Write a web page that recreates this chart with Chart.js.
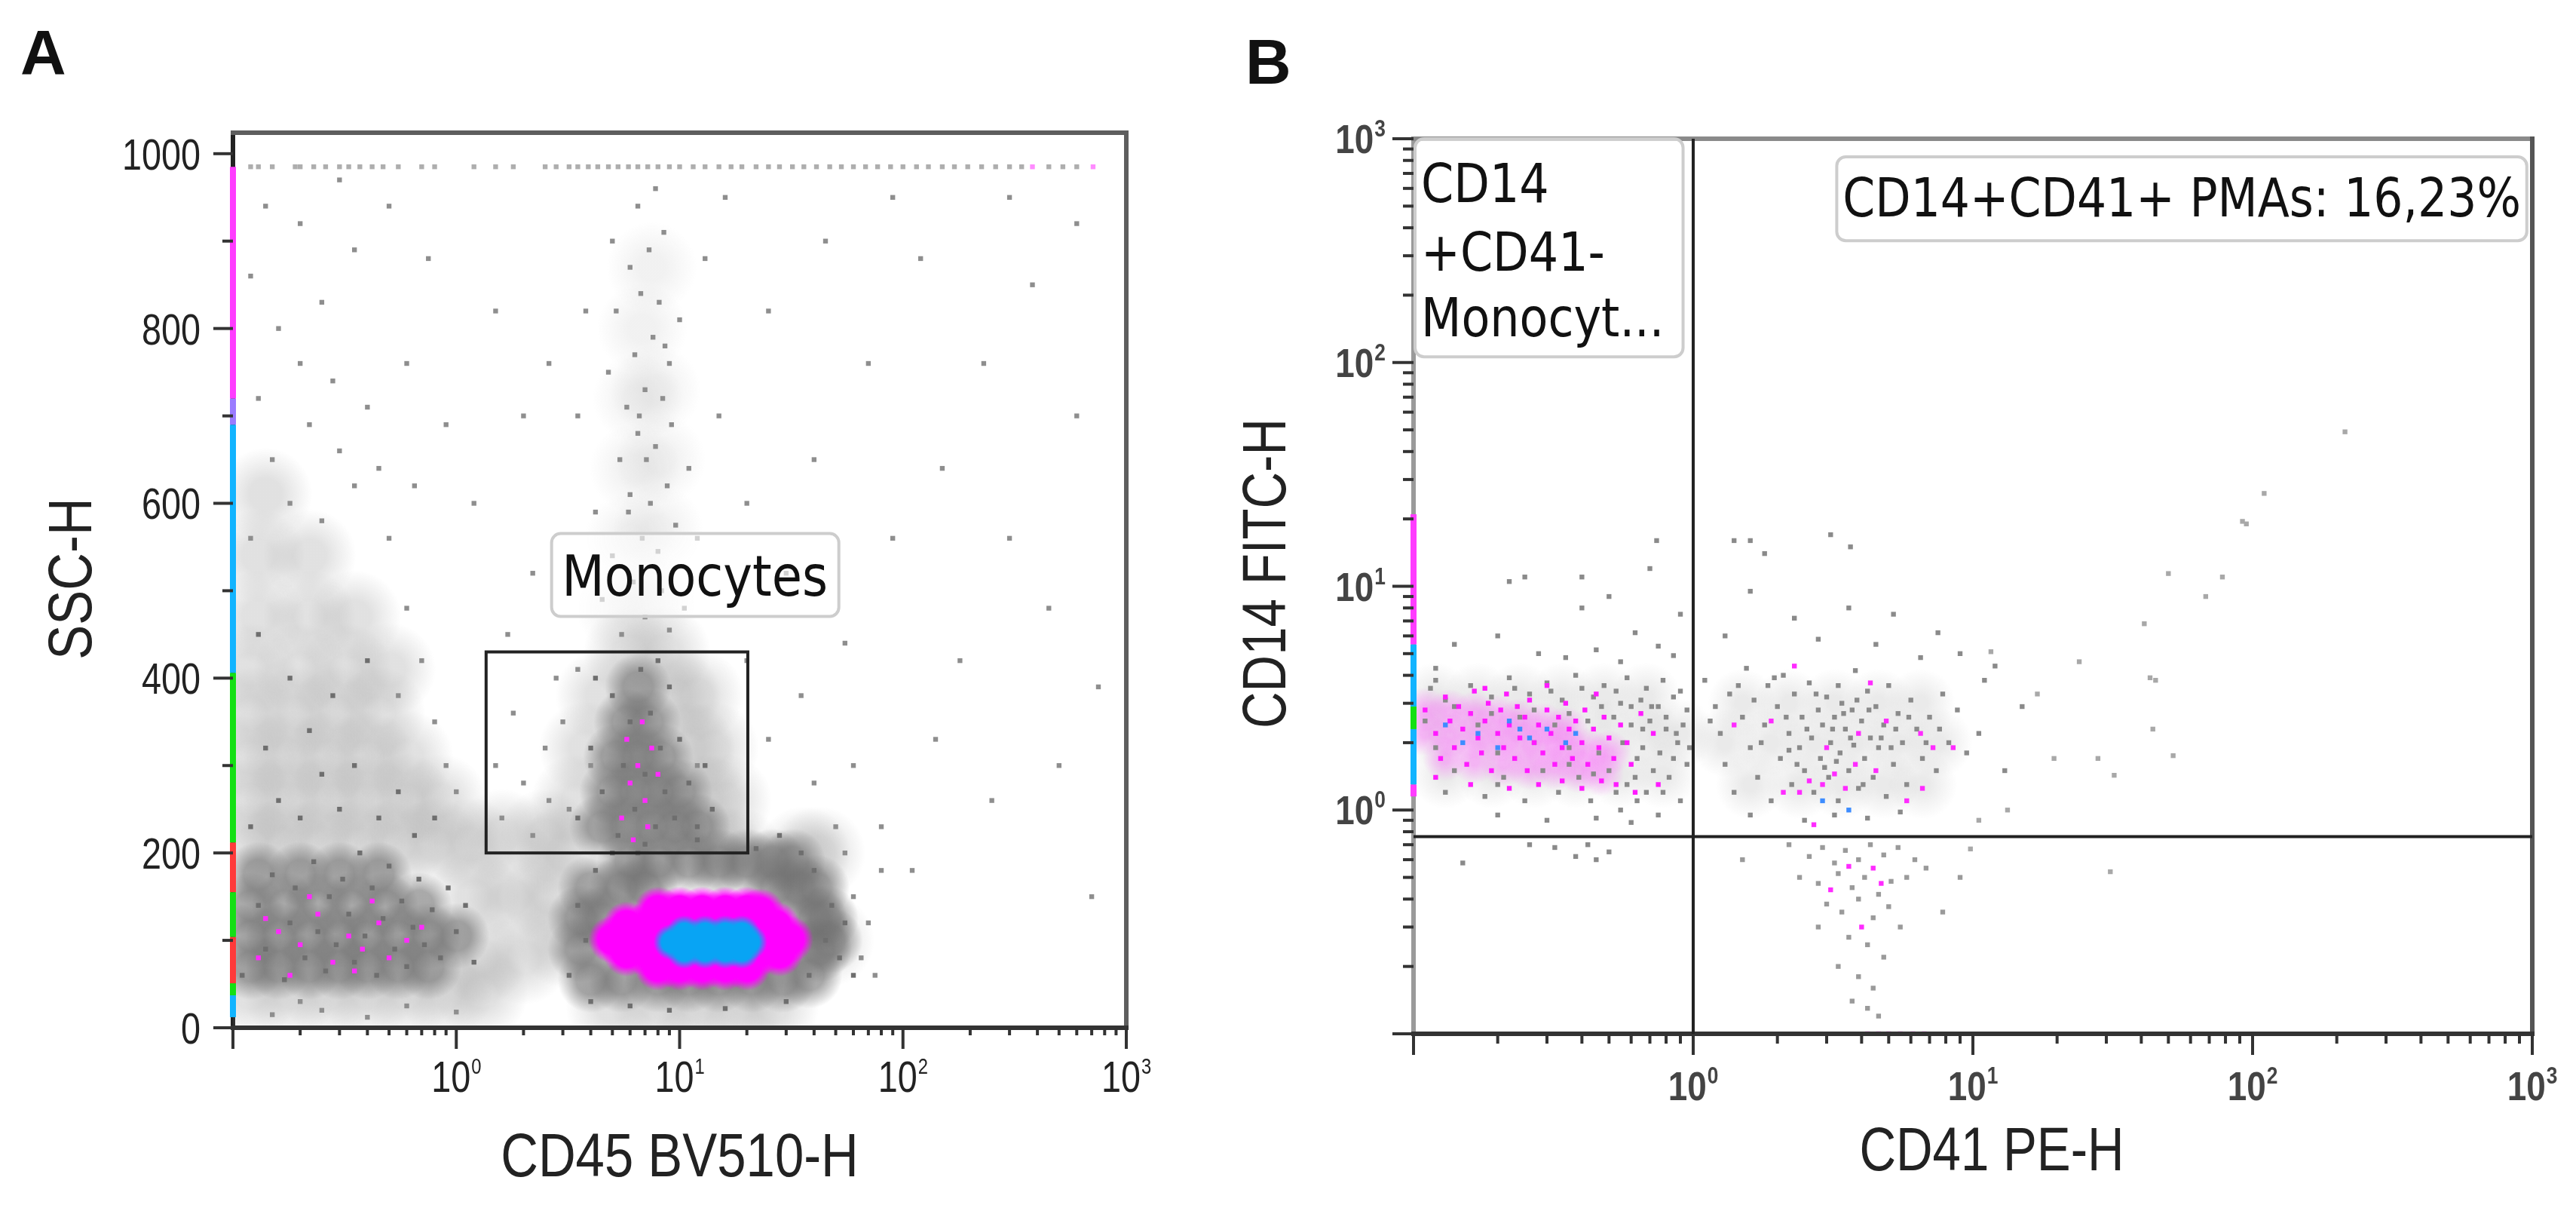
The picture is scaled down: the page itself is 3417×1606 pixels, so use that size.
<!DOCTYPE html>
<html>
<head>
<meta charset="utf-8">
<script src="https://cdn.jsdelivr.net/npm/chart.js@4.4.1/dist/chart.umd.min.js"></script>
<style>
  html, body { margin: 0; padding: 0; background: #fff; }
  body { width: 3417px; height: 1606px; position: relative; overflow: hidden; }
  canvas { position: absolute; top: 0; }
  #chartA { left: 0; }
  #chartB { left: 1620px; }
  .tag { position: absolute; font: bold 84px "Liberation Sans", Arial, sans-serif; line-height: 84px; color: #111; }
</style>
</head>
<body>
<div class="tag" style="left:27px;top:28px">A</div>
<div class="tag" style="left:1652px;top:40px">B</div>
<canvas id="chartA" width="1620" height="1606"></canvas>
<canvas id="chartB" width="1797" height="1606"></canvas>
<script>
// ---------- Panel A data: CD45 BV510-H (log) vs SSC-H (linear) ----------
const AXIS_MIN = 0.1;

// broad, faint density of the populations
const lightHazeA = [
  [0.12,40],[0.18,40],[0.27,40],[0.4,40],[0.6,40],[0.9,40],[1.3,40],
  [0.12,210],[0.17,210],[0.25,210],[0.37,210],[0.55,210],[0.8,210],[1.15,210],
  [0.12,260],[0.18,260],[0.27,260],[0.4,260],[0.6,260],[0.85,260],
  [0.12,310],[0.18,310],[0.27,310],[0.4,310],[0.6,310],
  [0.12,360],[0.19,360],[0.29,360],[0.45,360],
  [0.12,410],[0.2,410],[0.32,410],[0.5,410],
  [0.13,470],[0.22,470],[0.35,470],
  [0.13,540],[0.22,540],[0.14,610],
  [1.3,80],[2.0,80],[1.2,150],[1.8,150],[2.6,150],[1.6,220],[2.5,220],
  [3,200],[15,200],[18,200],[3.5,260],[13,260],[16,260],
  [3.8,320],[11,320],[14,320],[4.5,380],[9.5,380],[12,380],[6,430],[8.5,430],
  [5,25],[8,25],[12,25],[18,25],[26,25],[3,100],[46,100],[36,200],[42,200]
];
// faint column of granulocytes above the monocytes
const plumeA = [
  [5.5,480],[7.5,490],[6,560],[8,570],[6.3,640],[8.2,650],[6.5,720],[7.8,730],[6.8,800],[7.5,870]
];
// dense cores of the populations
const darkHazeA = [
  [0.12,70],[0.16,70],[0.22,70],[0.3,70],[0.4,70],[0.55,70],[0.75,70],
  [0.12,105],[0.16,105],[0.22,105],[0.3,105],[0.4,105],[0.55,105],[0.75,105],[1.0,105],
  [0.12,140],[0.17,140],[0.24,140],[0.34,140],[0.48,140],[0.68,140],
  [0.13,175],[0.2,175],[0.3,175],[0.45,175],
  [4.5,230],[5.8,230],[7.5,230],[9.5,230],[12,230],
  [5,270],[6.3,270],[8,270],[10,270],[5.2,310],[6.5,310],[8.2,310],
  [5.8,350],[7.2,350],[6.5,390],
  [4,55],[5.5,55],[8,55],[11,55],[15,55],[21,55],[29,55],[38,60],
  [3.6,90],[42,90],[47,100],[3.6,125],[4.5,125],[40,125],[45,125],
  [4,160],[5.5,160],[7,160],[27,160],[34,160],[41,160],
  [6,190],[8,190],[11,190],[15,190],[20,190],[26,190],[32,190]
];
// single events, sparse areas
const dotsA = [
  [5.5,450],[7,470],[9,455],[4.5,490],[6.2,510],[8.3,500],[10.5,480],[5,540],[6.8,560],[8,545],
  [9.6,575],[4.2,590],[6,610],[7.4,600],[8.8,620],[5.4,650],[6.5,680],[7.8,665],[9.2,690],[5.8,710],
  [7,730],[8.4,720],[4.8,750],[6.3,770],[7.6,790],[9,760],[5.2,820],[6.7,840],[8.1,830],[10,810],
  [6,870],[7.3,890],[5,900],[8.5,910],[6.5,940],[7.8,960],[3.5,700],[3.8,820],[11,640],[12,560],
  [2.6,760],[13,880],[6.6,700],[7.1,650],[5.9,590],[8.6,780],
  [0.12,560],[0.18,600],[0.25,580],[0.35,620],[0.15,650],[0.22,690],[0.3,660],[0.45,640],[0.13,720],
  [0.2,760],[0.28,740],[0.4,710],[0.16,800],[0.25,830],[0.12,860],[0.5,560],[0.6,480],[0.7,420],
  [0.55,380],[0.8,350],[0.9,300],[1.0,270],[0.2,920],[0.35,890],
  [0.6,760],[0.75,880],[0.5,940],[0.14,940],[0.3,970],[0.9,690],[0.65,620],
  [1.5,820],[2,700],[1.2,600],[2.2,520],[1.7,450],[15,700],[20,600],[25,820],[30,520],[40,650],
  [55,440],[70,760],[90,560],[120,880],[150,640],[180,420],[230,760],[300,560],[380,850],[450,480],
  [600,700],[750,390],[20,420],[35,380],[60,300],[80,230],[110,180],[140,330],[250,260],[500,300],
  [700,150],[45,900],[16,950],[90,950],[300,950],[600,920],[12,300],[25,330],[40,280],
  [1.6,240],[2,280],[2.5,320],[1.8,360],[2.8,400],[3.2,250],[2.2,220],[3,350],[1.5,300],[2.6,260],
  [3.5,410],[4,300],[60,150],[70,120],[65,80],[75,60],[55,200],[50,230],[80,180],
  [0.15,15],[0.25,20],[0.4,12],[0.6,25],[1,18],[0.2,30]
];
const denseDotsA = [
  [0.11,60],[0.13,140],[0.14,90],[0.15,175],[0.17,55],[0.18,120],[0.19,160],[0.21,80],[0.23,190],
  [0.24,110],[0.26,65],[0.27,150],[0.29,95],[0.31,170],[0.33,130],[0.35,75],[0.37,200],[0.39,105],
  [0.42,160],[0.44,60],[0.47,125],[0.5,185],[0.53,90],[0.57,145],[0.6,70],[0.64,115],[0.68,170],
  [0.72,95],[0.78,135],[0.85,80],[0.92,160],[1.0,110],[1.1,140],[1.2,75],[0.12,230],[0.16,260],
  [0.2,240],[0.25,290],[0.3,250],[0.14,320],[0.22,340],[0.35,300],[0.45,240],[0.55,270],[0.18,400],
  [0.28,380],[0.13,450],[0.4,420],[0.65,220],[0.8,240],
  [3.5,240],[4,320],[4.5,270],[5,380],[5.3,220],[5.6,300],[6,350],[6.3,250],[6.7,410],[7,290],
  [7.4,360],[7.8,230],[8.2,320],[8.6,270],[9,390],[9.5,240],[10,330],[11,280],[12,230],[13,300],
  [14,250],[6.5,200],[4.2,400],[8,420],
  [3.2,60],[3.5,140],[4,30],[4.2,180],[5,200],[6,25],[7,210],[9,20],[12,215],[16,22],[22,205],
  [30,30],[38,60],[45,100],[48,140],[40,180],[52,80],[35,200],[28,220],[3.8,100],[55,120],[60,60]
];
const pinkDotsA = [
  [0.13,80],[0.16,110],[0.2,95],[0.24,130],[0.28,75],[0.33,105],[0.38,90],[0.45,120],[0.5,80],
  [0.6,100],[0.7,115],[0.18,60],[0.22,150],[0.35,65],[0.42,145],[0.14,125],
  [5.5,240],[6,280],[6.5,300],[7,260],[7.5,320],[6.8,350],[8,290],[6.2,215],[7.2,230],[5.8,330]
];
// lymphocyte cloud, high-density (magenta) and highest-density (blue) cells
const pinkBlobA = [
  [8,70],[10,70],[12.6,70],[16,70],[20,70],
  [5.8,86],[7.2,86],[9,86],[11.3,86],[14.2,86],[18,86],[22.5,86],[28,86],
  [5,101],[6.3,101],[8,101],[10,101],[12.6,101],[16,101],[20,101],[25,101],[31,101],
  [5.8,117],[7.2,117],[9,117],[11.3,117],[14.2,117],[18,117],[22.5,117],[27,117],
  [8,134],[10,134],[12.6,134],[16,134],[20,134],[23,132]
];
const blueCoreA = [
  [10.5,88],[13,88],[16,88],[19,88],
  [9.2,98],[11.5,98],[14,98],[17,98],[20.5,98],
  [10.5,108],[13,108],[16,108],[19,108]
];
// off-scale events on the top channel
const topRowY = 985;
const topRowA = [0.12,0.13,0.15,0.19,0.2,0.23,0.26,0.3,0.33,0.37,0.42,0.47,0.55,0.7,0.8,1.2,1.5,1.8,
  2.5,2.8,3.2,3.5,3.9,4.3,4.8,5.3,5.9,6.5,7.2,8,9,10,11.5,13,15,17,19,22,25,28,32,36,41,47,53,
  60,68,77,88,100,115,130,150,170,195,225,260,300,340,450,520,600];
const topRowPinkA = [380, 710];
// events piled on the lowest CD45 channel, coloured by density
const stripeA_magenta = [[720,985]];
const stripeA_violet = [[690,720]];
const stripeA_blue = [[406,690],[12,37]];
const stripeA_green = [[212,406],[104,155],[37,51]];
const stripeA_red = [[155,212],[51,104]];
const gateA = { x: [1.36, 20.2], y: [200, 430] };
const monoLabelA = { x: 11.7, y: 518 };

// ---------- Panel B data: CD41 PE-H (log) vs CD14 FITC-H (log) ----------
const greyHazeB = [
  [0.12,3.2],[0.17,3.2],[0.24,3.2],[0.34,3.2],[0.48,3.2],[0.68,3.2],
  [0.12,2.2],[0.17,2.2],[0.24,2.2],[0.34,2.2],[0.48,2.2],[0.68,2.2],[0.9,2.2],
  [0.13,1.45],[0.19,1.45],[0.27,1.45],[0.38,1.45],[0.55,1.45],[0.78,1.45],
  [1.5,3],[2.2,3],[3.2,3],[4.6,3],[6.5,3],[1.3,2],[1.9,2],[2.7,2],[3.8,2],[5.4,2],[7.5,2],
  [1.6,1.3],[2.4,1.3],[3.4,1.3],[4.8,1.3],[6.6,1.3]
];
const pinkHazeB = [
  [0.11,2.8],[0.135,2.75],[0.165,2.7],[0.2,2.6],[0.24,2.5],[0.29,2.4],[0.35,2.3],
  [0.11,2.2],[0.135,2.15],[0.165,2.1],[0.2,2.05],[0.24,2.0],[0.29,1.95],[0.35,1.9],[0.42,1.85],[0.5,1.8],
  [0.13,1.7],[0.165,1.65],[0.21,1.6],[0.26,1.55],[0.32,1.55],[0.39,1.5],[0.47,1.45]
];
const monoB = [
  [0.14,5.5],[0.2,6],[0.28,5],[0.35,4.8],[0.45,5.2],[0.55,4.6],[0.62,6.2],[0.75,5.4],[0.85,4.9],
  [0.9,7.5],[0.5,9],[0.25,11],[0.12,4.3],[0.7,12],[0.4,8],[0.74,16],[0.4,11],[0.22,10.5],
  [0.12,3.8],[0.16,3.6],[0.22,3.9],[0.3,3.7],[0.38,4],[0.48,3.6],[0.58,3.9],[0.68,3.5],[0.78,3.8],[0.9,3.4],
  [0.13,3.1],[0.19,3.2],[0.26,3.3],[0.34,3.1],[0.44,3.2],[0.55,3],[0.65,3.1],[0.75,2.9],[0.85,3.2],[0.95,2.8],
  [0.11,2.5],[0.17,2.4],[0.24,2.6],[0.32,2.4],[0.42,2.5],[0.52,2.6],[0.6,2.4],[0.7,2.5],[0.8,2.3],[0.92,2.4],
  [0.12,1.9],[0.2,1.8],[0.27,2],[0.36,1.9],[0.46,1.8],[0.56,2],[0.66,1.9],[0.76,1.8],[0.88,2],
  [0.14,1.5],[0.21,1.4],[0.29,1.5],[0.39,1.4],[0.5,1.5],[0.62,1.4],[0.72,1.5],[0.82,1.4],[0.95,1.6],
  [0.13,1.2],[0.18,1.15],[0.25,1.1],[0.33,1.2],[0.43,1.1],[0.53,1.2],[0.63,1.1],[0.78,1.2],
  [0.2,0.95],[0.3,0.9],[0.45,0.92],[0.6,0.88],[0.75,0.95],[0.55,1.0],
  [0.15,0.58],[0.32,0.68],[0.38,0.62],[0.45,0.6],[0.5,0.65],[0.42,0.7],[0.26,0.7],
  [0.115,3.5],[0.14,2.9],[0.19,2.7],[0.23,3.5],[0.27,2.8],[0.31,3.4],[0.36,2.7],[0.4,3.5],[0.47,2.9],
  [0.53,3.4],[0.6,2.9],[0.66,2.3],[0.71,2.9],[0.8,2.6],[0.87,2.2],[0.97,1.9],[0.63,1.7],[0.68,1.2],
  [0.85,1.7],[0.9,1.1],[0.2,1.3],[0.36,1.6],[0.44,1.45],[0.58,1.3]
];
const pmaB = [
  [1.1,3.8],[1.2,2.9],[1.25,2.2],[1.3,1.6],[1.35,3.3],[1.4,1.2],[1.5,2.6],[1.55,4.3],[1.6,1.9],[1.65,3.1],
  [1.7,1.4],[1.8,2.4],[1.85,3.6],[1.9,1.1],[2.0,2.9],[2.05,1.7],[2.1,4.0],[2.2,2.2],[2.25,1.3],[2.3,3.3],
  [2.4,1.9],[2.45,2.6],[2.5,1.5],[2.6,3.7],[2.65,2.1],[2.7,1.2],[2.8,2.8],[2.85,1.7],[2.9,2.4],[3.0,3.2],
  [3.05,1.4],[3.1,2.0],[3.2,2.6],[3.3,1.1],[3.35,1.8],[3.4,3.0],[3.5,2.3],[3.6,1.5],[3.7,2.8],[3.75,1.95],
  [3.8,4.2],[3.9,1.25],[4.0,2.5],[4.1,1.7],[4.2,3.4],[4.3,2.1],[4.4,1.4],[4.5,2.9],[4.6,1.9],[4.8,2.4],
  [4.9,1.15],[5.0,3.6],[5.2,1.6],[5.4,2.7],[5.6,2.0],[5.8,1.3],[6.0,3.1],[6.3,2.3],[6.6,1.7],[7.0,2.6],
  [7.4,1.5],[7.8,3.3],[8.2,2.0],[8.8,2.8],[9.5,1.8],[3.2,0.95],[2.5,0.9],[4.2,0.92],[5.5,0.98],[1.6,0.95],
  [1.3,6],[1.6,9.5],[1.8,14],[2.3,7.2],[2.8,5.8],[3.6,8],[4.5,5.5],[5.2,7.5],[6.5,4.8],[7.5,6.2],
  [9,5],[11,3.8],[12,4.4],[10.5,2.2],[13,1.5],[15,2.9],[1.4,16],[1.6,16],[3.65,15],[3.1,17],
  [1.15,2.5],[1.45,3.6],[1.75,2.0],[2.15,2.6],[2.35,1.6],[2.55,2.3],[2.75,3.3],[3.15,2.3],[3.25,1.65],
  [3.45,2.7],[3.65,2.1],[3.85,3.1],[4.05,1.3],[4.25,2.8],[4.7,2.1],[5.1,1.9],[5.3,2.3],[5.9,2.6],
  [6.8,2.0],[7.6,2.3],[2.95,1.55],[2.2,1.85],[3.3,3.6],[1.95,3.9]
];
const tailB = [
  [2.2,0.7],[2.6,0.62],[2.9,0.68],[3.2,0.58],[3.5,0.66],[3.9,0.6],[4.3,0.7],[4.8,0.63],[5.4,0.68],[6.2,0.6],
  [2.4,0.5],[2.8,0.47],[3.3,0.52],[3.7,0.45],[4.1,0.5],[4.6,0.42],[5.1,0.48],[5.8,0.5],[6.8,0.55],[3.0,0.38],
  [3.4,0.35],[3.9,0.4],[4.4,0.33],[5.0,0.37],[5.5,0.3],[2.8,0.3],[3.6,0.27],[4.2,0.25],[4.8,0.22],[3.3,0.2],
  [3.9,0.18],[4.4,0.16],[3.7,0.14],[4.2,0.13],[4.6,0.12],[1.5,0.6],[7.8,0.35],[9,0.5]
];
const sparseB = [
  [214,49],[110,26],[95,19],[92,19.5],[50,11.4],[78,11],[68,9],[41,6.8],[43,3.9],[45,3.8],[24,4.6],
  [17,3.3],[44,2.3],[52,1.75],[32,1.43],[28,1.7],[19.5,1.7],[31,0.53],[11.6,5.1],[13.3,1.0],[10.5,0.9],[9.8,0.67]
];
const pinkMonoB = [
  [0.11,2.8],[0.12,2.2],[0.125,1.7],[0.13,3.2],[0.135,2.5],[0.14,1.9],[0.145,2.9],[0.15,2.3],[0.155,1.6],
  [0.16,2.7],[0.165,3.4],[0.17,2.1],[0.175,1.8],[0.18,2.5],[0.185,3],[0.19,1.5],[0.2,2.2],[0.205,2.8],
  [0.21,1.9],[0.215,3.3],[0.22,2.4],[0.23,1.7],[0.235,2.9],[0.24,2.1],[0.25,2.6],[0.255,1.5],[0.26,3.1],
  [0.27,2],[0.28,2.4],[0.29,1.8],[0.3,2.8],[0.31,2.2],[0.32,1.6],[0.33,2.6],[0.34,1.9],[0.35,3],[0.36,2.3],
  [0.37,1.7],[0.38,2.5],[0.4,2],[0.41,2.8],[0.42,1.6],[0.44,2.3],[0.46,1.9],[0.48,2.6],[0.5,2.1],[0.52,1.7],
  [0.55,2.4],[0.58,2],[0.6,1.6],[0.12,1.4],[0.16,1.3],[0.22,1.25],[0.28,1.3],[0.34,1.35],[0.4,1.25],
  [0.47,1.35],[0.53,1.3],[0.65,2.7],[0.72,2.2],[0.3,3.6],[0.18,3.5],[0.45,3.3],[0.62,1.2],[0.75,1.3]
];
const pinkPmaB = [
  [1.4,2.4],[2.3,4.4],[2.6,1.35],[2.9,1.3],[3.2,1.45],[3.5,1.25],[2.1,1.2],[3.8,1.6],[4.5,1.5],[4.3,3.7],
  [4.9,2.5],[6.5,2.2],[7.2,1.9],[3.9,2.2],[2.4,1.2],[3.0,1.9],[1.9,2.5],[5.8,1.1],[2.7,0.86],[6.6,1.25],[8.5,1.9],
  [3.6,0.56],[4.4,0.55],[4.7,0.47],[3.1,0.44],[4.0,0.3],
  [4.2,0.1],[4.6,0.1],[5.0,0.1],[5.5,0.1],[6.1,0.1],[6.7,0.1]
];
const blueB = [
  [0.13,2.4],[0.17,2.2],[0.22,2.5],[0.26,2.1],[0.3,2.3],[0.35,2.0],[0.2,1.9],[0.38,2.2],[0.15,2.0],
  [0.24,2.3],[2.9,1.1],[3.6,1.0]
];
const stripeB_magenta = [[5.5,21],[1.15,1.3]];
const stripeB_blue = [[1.3,2.3],[2.9,5.5]];
const stripeB_green = [[2.3,2.9]];
const quadB = { x: 1, y: 0.76 };

const narrowFont = "'Liberation Sans',Arial,sans-serif";
const boxFont = "'DejaVu Sans',Verdana,sans-serif";

const pts = arr => arr.map(([x, y]) => ({ x, y }));
const rowPts = (xs, y) => xs.map(x => ({ x, y }));
const segPts = segs => segs.flatMap(([a, b]) => [{ x: AXIS_MIN, y: a }, { x: AXIS_MIN, y: b }, { x: AXIS_MIN, y: null }]);

function dots(data, color, r, style) {
  return { data, backgroundColor: color, borderWidth: 0, pointRadius: r, pointHoverRadius: r,
    pointStyle: style || 'circle', clip: 0 };
}
// soft density blob: a radial gradient around each point
function soft(data, rgb, alpha, r, solid) {
  return {
    data, borderWidth: 0, pointRadius: r, pointHoverRadius: r, clip: 0,
    backgroundColor(c) {
      const flat = `rgba(${rgb},${alpha * 0.5})`;
      if (c.type !== 'data' || !c.raw) return flat;
      const ch = c.chart;
      const sx = ch.scales && ch.scales.x, sy = ch.scales && ch.scales.y;
      if (!sx || !sy) return flat;
      const px = sx.getPixelForValue(c.raw.x), py = sy.getPixelForValue(c.raw.y);
      if (!isFinite(px) || !isFinite(py)) return flat;
      const g = ch.ctx.createRadialGradient(px, py, 0, px, py, r);
      g.addColorStop(0, `rgba(${rgb},${alpha})`);
      g.addColorStop(solid, `rgba(${rgb},${alpha})`);
      g.addColorStop(1, `rgba(${rgb},0)`);
      return g;
    }
  };
}
function stripe(segs, color) {
  return { data: segPts(segs), showLine: true, spanGaps: false, borderColor: color, borderWidth: 8,
    pointRadius: 0, clip: 8 };
}

// 2 = major tick, 1 = minor tick, 0 = skip
function tickKind(v, scale) {
  if (scale.type === 'logarithmic') {
    const e = Math.log10(v);
    if (Math.abs(e - Math.round(e)) < 1e-6) return 2;
    const m = v / Math.pow(10, Math.floor(e + 1e-9));
    return Math.abs(m - Math.round(m)) < 1e-6 ? 1 : 0;
  }
  return v % 200 === 0 ? 2 : 1;
}

function seg(ctx, x0, y0, x1, y1, color) {
  ctx.strokeStyle = color;
  ctx.beginPath(); ctx.moveTo(x0, y0); ctx.lineTo(x1, y1); ctx.stroke();
}
function labelBox(ctx, x0, y0, x1, y1) {
  ctx.save();
  ctx.beginPath();
  ctx.roundRect(x0, y0, x1 - x0, y1 - y0, 12);
  ctx.fillStyle = 'rgba(255,255,255,0.6)';
  ctx.fill();
  ctx.lineWidth = 4;
  ctx.strokeStyle = '#cdcdcd';
  ctx.stroke();
  ctx.restore();
}
function squeezedText(ctx, text, x, y, font, size, squeeze, align, color, rotate) {
  ctx.save();
  ctx.font = size + 'px ' + font;
  ctx.fillStyle = color || '#111';
  ctx.textBaseline = 'alphabetic';
  ctx.textAlign = align;
  ctx.translate(x, y);
  if (rotate) ctx.rotate(rotate);
  ctx.scale(squeeze, 1);
  ctx.fillText(text, 0, 0);
  ctx.restore();
}
// "10" with a raised exponent, anchored on its centre or right edge
function powerLabel(ctx, exp, x, baseline, t, align) {
  const w = (t.weight || '') + ' ';
  ctx.save();
  ctx.fillStyle = t.color;
  ctx.textBaseline = 'alphabetic';
  ctx.textAlign = 'left';
  ctx.font = w + t.size + 'px ' + t.font;
  const w1 = ctx.measureText('10').width * t.squeeze;
  ctx.font = w + t.supSize + 'px ' + t.font;
  const w2 = ctx.measureText(String(exp)).width * t.squeeze;
  const total = w1 + t.gap + w2;
  const left = align === 'right' ? x - total : x - total / 2;
  ctx.translate(left, baseline);
  ctx.scale(t.squeeze, 1);
  ctx.font = w + t.size + 'px ' + t.font;
  ctx.fillText('10', 0, 0);
  ctx.font = w + t.supSize + 'px ' + t.font;
  ctx.fillText(String(exp), (w1 + t.gap) / t.squeeze, -t.raise);
  ctx.restore();
}

function framePlugin(opt) {
  return {
    id: 'frame',
    beforeDatasetsDraw(chart) {
      const { ctx, chartArea: a } = chart;
      ctx.save();
      ctx.lineWidth = 6;
      seg(ctx, a.left, a.top - 3, a.left, a.bottom + 3, opt.leftColor);
      ctx.restore();
    },
    afterDatasetsDraw(chart) {
      const { ctx, chartArea: a, scales: { x, y } } = chart;
      ctx.save();
      ctx.lineWidth = 6;
      ctx.lineCap = 'square';
      seg(ctx, a.left, a.top, a.right, a.top, opt.topColor);
      seg(ctx, a.right, a.top, a.right, a.bottom, opt.rightColor);
      seg(ctx, a.left, a.bottom, a.right, a.bottom, opt.bottomColor);
      ctx.lineCap = 'butt';
      ctx.lineWidth = 4;
      const t = opt.tickText;
      x.ticks.forEach(tk => {
        const k = tickKind(tk.value, x);
        if (!k) return;
        const p = x.getPixelForValue(tk.value);
        seg(ctx, p, a.bottom, p, a.bottom + (k === 2 ? opt.xMajor : opt.xMinor), '#333');
        const e = Math.round(Math.log10(tk.value));
        if (k === 2 && e >= 0) powerLabel(ctx, e, p, a.bottom + t.xBase, t, 'center');
      });
      y.ticks.forEach(tk => {
        const k = tickKind(tk.value, y);
        if (!k) return;
        const p = y.getPixelForValue(tk.value);
        seg(ctx, a.left, p, a.left - (k === 2 ? opt.yMajor : opt.yMinor), p, '#333');
        if (k !== 2) return;
        if (y.type === 'logarithmic') {
          const e = Math.round(Math.log10(tk.value));
          if (e >= 0) powerLabel(ctx, e, a.left - t.yGap, p + t.yShift, t, 'right');
        } else {
          squeezedText(ctx, String(tk.value), a.left - t.yGap, p + t.yShift, t.font, t.size, t.squeeze, 'right', t.color);
        }
      });
      const ti = opt.titles;
      const mid = (a.left + a.right) / 2, midY = (a.top + a.bottom) / 2;
      squeezedText(ctx, ti.x, mid + ti.xShift, a.bottom + ti.xBase, narrowFont, ti.size, ti.squeeze, 'center', '#222');
      squeezedText(ctx, ti.y, a.left - ti.yBase, midY + ti.yShift, narrowFont, ti.size, ti.squeeze, 'center', '#222', -Math.PI / 2);
      opt.extra(chart);
      ctx.restore();
    }
  };
}

function baseOptions(pad, yWidth, xHeight) {
  return {
    responsive: false, animation: false, devicePixelRatio: 1, events: [],
    layout: { padding: pad },
    plugins: { legend: { display: false }, tooltip: { enabled: false } },
    scales: {
      x: {
        type: 'logarithmic', min: 0.1, max: 1000,
        afterFit: s => { s.height = xHeight; },
        grid: { display: false }, border: { display: false },
        ticks: { display: false, autoSkip: false }
      },
      y: {
        afterFit: s => { s.width = yWidth; },
        grid: { display: false }, border: { display: false },
        ticks: { display: false, autoSkip: false }
      }
    }
  };
}

// ---------- Chart A ----------
const optA = baseOptions({ top: 176, right: 126, bottom: 0, left: 0 }, 309, 243);
Object.assign(optA.scales.y, { type: 'linear', min: 0, max: 1024 });
Object.assign(optA.scales.y.ticks, { stepSize: 100, includeBounds: false });

new Chart(document.getElementById('chartA'), {
  type: 'scatter',
  data: {
    datasets: [
      stripe(stripeA_magenta, '#ff3cff'),
      stripe(stripeA_violet, '#9a7cff'),
      stripe(stripeA_blue, '#12b4ff'),
      stripe(stripeA_green, '#14e014'),
      stripe(stripeA_red, '#ff3a3a'),
      soft(pts(blueCoreA), '8,164,244', 1, 24, 0.55),
      soft(pts(pinkBlobA), '255,0,255', 1, 32, 0.6),
      dots(pts(pinkDotsA), '#ff2bff', 4.5, 'rect'),
      dots(rowPts(topRowPinkA, topRowY), '#ff8cff', 4.5, 'rect'),
      dots(rowPts(topRowA, topRowY), 'rgba(160,160,160,0.85)', 4.5, 'rect'),
      dots(pts(denseDotsA), '#6e6e6e', 4.5, 'rect'),
      dots(pts(dotsA), '#8e8e8e', 4.5, 'rect'),
      soft(pts(darkHazeA), '112,112,112', 0.6, 44, 0.45),
      soft(pts(plumeA), '150,150,150', 0.13, 60, 0.3),
      soft(pts(lightHazeA), '140,140,140', 0.26, 62, 0.35)
    ]
  },
  options: optA,
  plugins: [framePlugin({
    leftColor: '#222', topColor: '#5e5e5e', rightColor: '#5e5e5e', bottomColor: '#333',
    xMajor: 28, xMinor: 10, yMajor: 26, yMinor: 14,
    tickText: { font: narrowFont, size: 57, supSize: 29, squeeze: 0.82, gap: 1, raise: 24,
      color: '#222', xBase: 85, yGap: 43, yShift: 21 },
    titles: { x: 'CD45 BV510-H', y: 'SSC-H', size: 82, squeeze: 0.84, xBase: 197, xShift: 0, yBase: 188, yShift: -2 },
    extra(chart) {
      const { ctx, scales: { x, y } } = chart;
      const x0 = x.getPixelForValue(gateA.x[0]), x1 = x.getPixelForValue(gateA.x[1]);
      const y0 = y.getPixelForValue(gateA.y[1]), y1 = y.getPixelForValue(gateA.y[0]);
      ctx.lineWidth = 4;
      ctx.strokeStyle = '#222';
      ctx.strokeRect(x0, y0, x1 - x0, y1 - y0);
      const cx = x.getPixelForValue(monoLabelA.x), cy = y.getPixelForValue(monoLabelA.y);
      labelBox(ctx, cx - 190, cy - 55, cx + 191, cy + 55);
      squeezedText(ctx, 'Monocytes', cx, cy + 27, boxFont, 74, 0.885, 'center');
    }
  })]
});

// ---------- Chart B ----------
const optB = baseOptions({ top: 184, right: 58, bottom: 0, left: 0 }, 255, 235);
Object.assign(optB.scales.y, { type: 'logarithmic', min: 0.1, max: 1000 });

new Chart(document.getElementById('chartB'), {
  type: 'scatter',
  data: {
    datasets: [
      stripe(stripeB_magenta, '#ff3cff'),
      stripe(stripeB_green, '#14e014'),
      stripe(stripeB_blue, '#12b4ff'),
      dots(pts(blueB), '#3d8cff', 4.5, 'rect'),
      dots(pts(pinkMonoB), '#ff1aff', 4.5, 'rect'),
      dots(pts(pinkPmaB), '#ff2bff', 4.5, 'rect'),
      dots(pts(monoB), '#8a8a8a', 4.5, 'rect'),
      dots(pts(pmaB), '#8a8a8a', 4.5, 'rect'),
      dots(pts(tailB), '#9a9a9a', 4.5, 'rect'),
      dots(pts(sparseB), '#a8a8a8', 4.5, 'rect'),
      soft(pts(pinkHazeB), '255,60,255', 0.33, 30, 0.2),
      soft(pts(greyHazeB), '150,150,150', 0.2, 46, 0.2)
    ]
  },
  options: optB,
  plugins: [framePlugin({
    leftColor: '#9a9a9a', topColor: '#8a8a8a', rightColor: '#555', bottomColor: '#333',
    xMajor: 28, xMinor: 13, yMajor: 28, yMinor: 14,
    tickText: { font: narrowFont, weight: 'bold', size: 54, supSize: 31, squeeze: 0.85, gap: 1, raise: 22,
      color: '#444', xBase: 88, yGap: 37, yShift: 19 },
    titles: { x: 'CD41 PE-H', y: 'CD14 FITC-H', size: 82, squeeze: 0.82, xBase: 181, xShift: 25, yBase: 170, yShift: -17 },
    extra(chart) {
      const { ctx, chartArea: a, scales: { x, y } } = chart;
      const qx = x.getPixelForValue(quadB.x), qy = y.getPixelForValue(quadB.y);
      ctx.lineWidth = 4;
      seg(ctx, qx, a.top, qx, a.bottom, '#222');
      seg(ctx, a.left, qy, a.right, qy, '#222');
      const b1 = [x.getPixelForValue(0.1) + 2, y.getPixelForValue(1000), x.getPixelForValue(0.92), y.getPixelForValue(106)];
      labelBox(ctx, b1[0], b1[1], b1[2], b1[3]);
      squeezedText(ctx, 'CD14', b1[0] + 8, b1[1] + 84, boxFont, 72, 0.86, 'left');
      squeezedText(ctx, '+CD41-', b1[0] + 8, b1[1] + 175, boxFont, 72, 0.86, 'left');
      squeezedText(ctx, 'Monocyt...', b1[0] + 8, b1[1] + 262, boxFont, 72, 0.86, 'left');
      const b2 = [x.getPixelForValue(3.26), y.getPixelForValue(830), x.getPixelForValue(956), y.getPixelForValue(350)];
      labelBox(ctx, b2[0], b2[1], b2[2], b2[3]);
      squeezedText(ctx, 'CD14+CD41+ PMAs: 16,23%', (b2[0] + b2[2]) / 2, b2[1] + 79, boxFont, 72, 0.855, 'center');
    }
  })]
});
</script>
</body>
</html>
